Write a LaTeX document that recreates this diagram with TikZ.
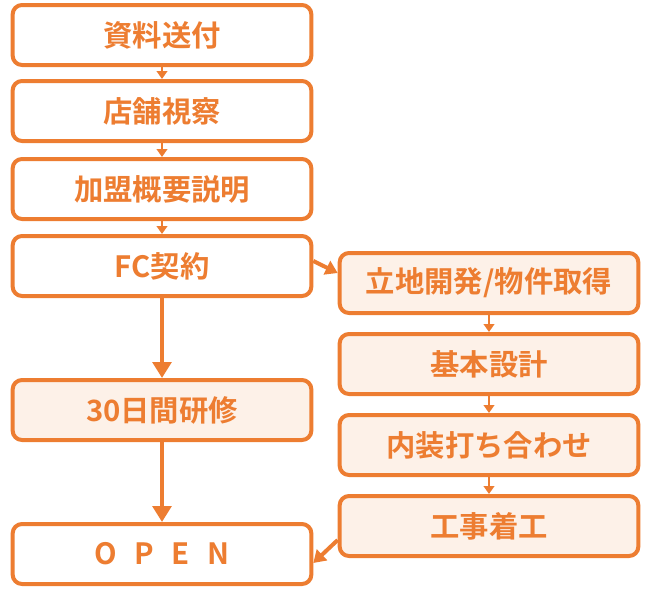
\documentclass[tikz,border=0pt]{standalone}
\usepackage{fontspec}
\newfontfamily\cjk{Noto Sans CJK JP Bold}
\usetikzlibrary{arrows.meta}
\definecolor{org}{HTML}{ED7D31}
\definecolor{lfill}{HTML}{FDF1E8}
\begin{document}
\begin{tikzpicture}[x=0.75pt,y=-0.75pt,
 box/.style={draw=org,line width=3pt,rounded corners=7pt,fill=white,minimum width=224pt,minimum height=45pt,text=org,font=\cjk\fontsize{22}{24}\selectfont},
 lbox/.style={box,fill=lfill},
 thin/.style={org,line width=1.5pt,-{Triangle[length=6pt,width=8pt]}},
 thick/.style={org,line width=3.5pt,-{Triangle[length=12pt,width=14pt]}}]
\useasboundingbox (0,0) rectangle (650,590);
\node[box] (a) at (162,35) {資料送付};
\node[box] (b) at (162,111) {店舗視察};
\node[box] (c) at (162,189) {加盟概要説明};
\node[box] (d) at (162,266) {FC契約};
\node[lbox] (e) at (162,410) {30日間研修};
\node[box] (f) at (162,554) {O\hspace{0.6em}P\hspace{0.6em}E\hspace{0.6em}N};
\node[lbox] (r1) at (489,283) {立地開発/物件取得};
\node[lbox] (r2) at (489,364) {基本設計};
\node[lbox] (r3) at (489,445) {内装打ち合わせ};
\node[lbox] (r4) at (489,526) {工事着工};
\draw[thin] (a) -- (b);
\draw[thin] (b) -- (c);
\draw[thin] (c) -- (d);
\draw[thin] (r1) -- (r2);
\draw[thin] (r2) -- (r3);
\draw[thin] (r3) -- (r4);
\draw[thick] (d) -- (e);
\draw[thick] (e) -- (f);
\draw[org,line width=3pt,-{Triangle[length=9pt,width=11pt]}] (d.east |- 0,261) -- (r1.west |- 0,273);
\draw[org,line width=3pt,-{Triangle[length=9pt,width=11pt]}] (r4.west |- 0,540) -- (f.east |- 0,563);
\end{tikzpicture}
\end{document}
